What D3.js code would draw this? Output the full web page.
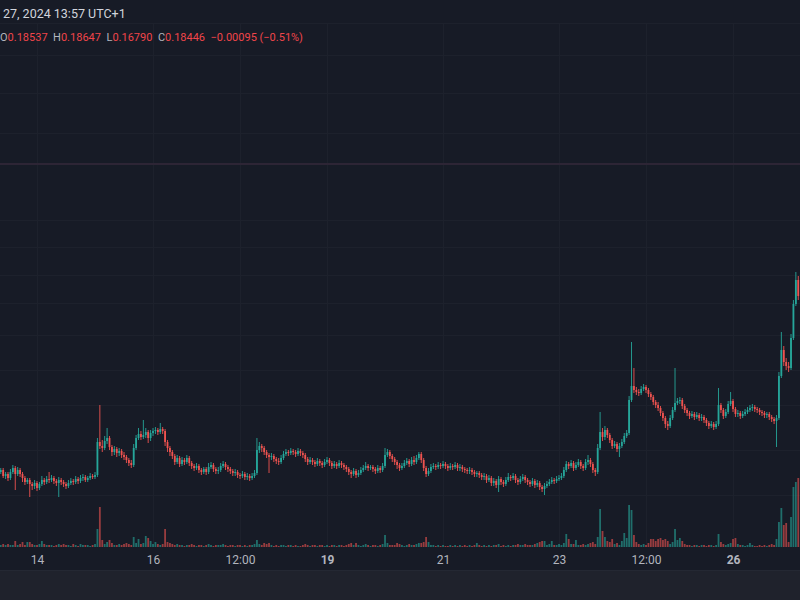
<!DOCTYPE html>
<html><head><meta charset="utf-8">
<script src="https://cdn.jsdelivr.net/npm/d3@7"></script>
<style>html,body{margin:0;padding:0;background:#171b26;}svg{display:block;}</style>
</head><body><svg id="c" width="800" height="600"></svg>
<script>
// hourly candles, first one opens Jan 13 09:00; each hourly candle opens at the previous close
const startTime = Date.UTC(2024, 0, 13, 9);
const firstOpen = 0.1112;
const closes = [
0.1120,0.1096,0.1104,0.1088,0.1112,0.1128,0.1104,0.1120,0.1104,0.1088,
0.1072,0.1080,0.1064,0.1056,0.1068,0.1048,0.1064,0.1080,0.1072,0.1084,
0.1080,0.1088,0.1076,0.1068,0.1080,0.1072,0.1064,0.1056,0.1068,0.1076,
0.1072,0.1084,0.1076,0.1088,0.1092,0.1080,0.1088,0.1096,0.1092,0.1100,
0.1232,0.1216,0.1208,0.1236,0.1248,0.1212,0.1192,0.1204,0.1188,0.1196,
0.1180,0.1172,0.1160,0.1148,0.1140,0.1208,0.1248,0.1264,0.1252,0.1260,
0.1272,0.1248,0.1268,0.1276,0.1280,0.1272,0.1284,0.1276,0.1232,0.1208,
0.1192,0.1176,0.1152,0.1168,0.1144,0.1160,0.1152,0.1168,0.1148,0.1136,
0.1128,0.1136,0.1120,0.1112,0.1124,0.1112,0.1132,0.1140,0.1124,0.1116,
0.1120,0.1136,0.1144,0.1132,0.1124,0.1116,0.1108,0.1112,0.1100,0.1096,
0.1104,0.1092,0.1096,0.1088,0.1096,0.1108,0.1200,0.1216,0.1208,0.1192,
0.1180,0.1172,0.1176,0.1164,0.1156,0.1152,0.1168,0.1184,0.1192,0.1188,
0.1196,0.1192,0.1184,0.1196,0.1188,0.1180,0.1164,0.1152,0.1160,0.1152,
0.1144,0.1156,0.1148,0.1140,0.1152,0.1160,0.1148,0.1136,0.1144,0.1136,
0.1148,0.1140,0.1132,0.1124,0.1112,0.1104,0.1116,0.1100,0.1108,0.1120,
0.1128,0.1136,0.1128,0.1132,0.1124,0.1116,0.1128,0.1120,0.1136,0.1180,
0.1192,0.1176,0.1164,0.1152,0.1140,0.1128,0.1136,0.1148,0.1156,0.1144,
0.1160,0.1152,0.1168,0.1184,0.1160,0.1128,0.1104,0.1116,0.1132,0.1136,
0.1132,0.1140,0.1136,0.1144,0.1136,0.1128,0.1136,0.1132,0.1140,0.1128,
0.1132,0.1124,0.1120,0.1116,0.1120,0.1112,0.1104,0.1108,0.1100,0.1092,
0.1096,0.1080,0.1088,0.1068,0.1076,0.1060,0.1084,0.1072,0.1064,0.1080,
0.1092,0.1088,0.1096,0.1080,0.1072,0.1084,0.1092,0.1080,0.1072,0.1064,
0.1076,0.1060,0.1068,0.1052,0.1044,0.1056,0.1064,0.1072,0.1080,0.1076,
0.1084,0.1088,0.1096,0.1120,0.1144,0.1136,0.1148,0.1128,0.1140,0.1152,
0.1136,0.1128,0.1152,0.1160,0.1144,0.1120,0.1112,0.1208,0.1272,0.1252,
0.1280,0.1260,0.1240,0.1216,0.1224,0.1204,0.1216,0.1232,0.1256,0.1268,
0.1400,0.1456,0.1440,0.1432,0.1428,0.1444,0.1452,0.1440,0.1424,0.1412,
0.1392,0.1380,0.1368,0.1348,0.1328,0.1304,0.1296,0.1328,0.1360,0.1388,
0.1396,0.1400,0.1376,0.1360,0.1348,0.1336,0.1344,0.1332,0.1340,0.1328,
0.1332,0.1320,0.1308,0.1296,0.1304,0.1292,0.1304,0.1380,0.1360,0.1336,
0.1352,0.1384,0.1396,0.1364,0.1344,0.1348,0.1336,0.1344,0.1352,0.1360,
0.1368,0.1372,0.1364,0.1360,0.1352,0.1348,0.1340,0.1344,0.1332,0.1324,
0.1316,0.1328,0.1496,0.1600,0.1552,0.1536,0.1528,0.1648,0.1784,0.1880,0.1816];
const highs = [
0.1128,0.1128,0.1112,0.1112,0.1124,0.1140,0.1136,0.1132,0.1128,0.1112,
0.1096,0.1088,0.1088,0.1072,0.1080,0.1076,0.1072,0.1096,0.1088,0.1096,
0.1112,0.1100,0.1096,0.1084,0.1092,0.1088,0.1080,0.1072,0.1080,0.1088,
0.1084,0.1096,0.1092,0.1100,0.1104,0.1100,0.1096,0.1108,0.1104,0.1112,
0.1248,0.1380,0.1240,0.1256,0.1288,0.1256,0.1220,0.1216,0.1212,0.1208,
0.1204,0.1192,0.1180,0.1168,0.1160,0.1224,0.1260,0.1288,0.1276,0.1320,
0.1288,0.1280,0.1280,0.1288,0.1292,0.1288,0.1308,0.1292,0.1284,0.1240,
0.1216,0.1200,0.1184,0.1180,0.1176,0.1172,0.1168,0.1180,0.1176,0.1156,
0.1144,0.1148,0.1144,0.1128,0.1132,0.1132,0.1148,0.1152,0.1148,0.1132,
0.1132,0.1148,0.1156,0.1152,0.1140,0.1132,0.1124,0.1124,0.1120,0.1108,
0.1116,0.1112,0.1108,0.1104,0.1108,0.1120,0.1248,0.1232,0.1224,0.1216,
0.1200,0.1188,0.1188,0.1184,0.1172,0.1168,0.1180,0.1196,0.1204,0.1200,
0.1208,0.1204,0.1200,0.1208,0.1204,0.1196,0.1188,0.1172,0.1172,0.1168,
0.1160,0.1168,0.1164,0.1156,0.1164,0.1172,0.1168,0.1156,0.1156,0.1152,
0.1160,0.1156,0.1148,0.1140,0.1132,0.1120,0.1128,0.1124,0.1120,0.1132,
0.1140,0.1152,0.1144,0.1140,0.1140,0.1132,0.1140,0.1136,0.1148,0.1208,
0.1204,0.1200,0.1184,0.1172,0.1160,0.1148,0.1148,0.1160,0.1168,0.1164,
0.1172,0.1176,0.1180,0.1192,0.1192,0.1168,0.1136,0.1128,0.1144,0.1148,
0.1144,0.1152,0.1148,0.1156,0.1152,0.1144,0.1148,0.1144,0.1152,0.1148,
0.1144,0.1140,0.1132,0.1128,0.1132,0.1128,0.1120,0.1116,0.1116,0.1108,
0.1108,0.1104,0.1100,0.1096,0.1088,0.1084,0.1096,0.1092,0.1080,0.1092,
0.1108,0.1100,0.1108,0.1104,0.1088,0.1096,0.1104,0.1100,0.1088,0.1080,
0.1088,0.1084,0.1080,0.1076,0.1060,0.1068,0.1076,0.1084,0.1092,0.1088,
0.1096,0.1100,0.1108,0.1132,0.1156,0.1152,0.1160,0.1156,0.1152,0.1164,
0.1160,0.1144,0.1164,0.1180,0.1168,0.1152,0.1128,0.1224,0.1352,0.1288,
0.1296,0.1288,0.1268,0.1248,0.1236,0.1232,0.1228,0.1244,0.1268,0.1280,
0.1416,0.1632,0.1528,0.1452,0.1444,0.1456,0.1464,0.1460,0.1448,0.1432,
0.1420,0.1400,0.1392,0.1376,0.1356,0.1336,0.1316,0.1340,0.1372,0.1528,
0.1408,0.1412,0.1408,0.1384,0.1368,0.1356,0.1356,0.1352,0.1352,0.1348,
0.1344,0.1340,0.1328,0.1316,0.1316,0.1312,0.1316,0.1448,0.1388,0.1368,
0.1364,0.1396,0.1432,0.1404,0.1372,0.1360,0.1356,0.1356,0.1364,0.1372,
0.1380,0.1384,0.1380,0.1372,0.1368,0.1360,0.1356,0.1352,0.1352,0.1340,
0.1332,0.1340,0.1512,0.1672,0.1616,0.1568,0.1552,0.1664,0.1800,0.1912,0.1896];
const lows = [
0.1104,0.1088,0.1084,0.1076,0.1080,0.1104,0.1040,0.1096,0.1092,0.1072,
0.1060,0.1064,0.1012,0.1040,0.1044,0.1036,0.1040,0.1056,0.1060,0.1064,
0.1068,0.1072,0.1064,0.1056,0.1012,0.1060,0.1052,0.1044,0.1048,0.1060,
0.1060,0.1064,0.1064,0.1068,0.1076,0.1072,0.1072,0.1080,0.1084,0.1084,
0.1092,0.1204,0.1192,0.1200,0.1224,0.1200,0.1176,0.1180,0.1172,0.1176,
0.1168,0.1160,0.1148,0.1136,0.1128,0.1132,0.1200,0.1240,0.1240,0.1244,
0.1248,0.1228,0.1236,0.1256,0.1264,0.1260,0.1264,0.1264,0.1216,0.1192,
0.1176,0.1164,0.1140,0.1144,0.1132,0.1136,0.1140,0.1144,0.1136,0.1124,
0.1116,0.1120,0.1108,0.1100,0.1104,0.1100,0.1104,0.1124,0.1112,0.1104,
0.1104,0.1112,0.1128,0.1120,0.1112,0.1104,0.1096,0.1096,0.1088,0.1084,
0.1088,0.1080,0.1080,0.1076,0.1080,0.1088,0.1100,0.1188,0.1192,0.1180,
0.1168,0.1108,0.1160,0.1152,0.1144,0.1140,0.1144,0.1160,0.1176,0.1176,
0.1180,0.1180,0.1172,0.1176,0.1176,0.1168,0.1152,0.1140,0.1144,0.1140,
0.1132,0.1136,0.1136,0.1128,0.1132,0.1144,0.1136,0.1124,0.1128,0.1124,
0.1128,0.1128,0.1120,0.1112,0.1100,0.1088,0.1096,0.1088,0.1092,0.1100,
0.1112,0.1120,0.1116,0.1120,0.1112,0.1104,0.1108,0.1108,0.1112,0.1128,
0.1172,0.1164,0.1152,0.1140,0.1124,0.1116,0.1120,0.1128,0.1140,0.1132,
0.1136,0.1140,0.1144,0.1160,0.1148,0.1116,0.1092,0.1096,0.1108,0.1124,
0.1120,0.1124,0.1124,0.1128,0.1124,0.1116,0.1120,0.1120,0.1124,0.1116,
0.1116,0.1112,0.1108,0.1104,0.1104,0.1100,0.1092,0.1092,0.1088,0.1080,
0.1080,0.1068,0.1072,0.1056,0.1056,0.1048,0.1032,0.1060,0.1052,0.1056,
0.1072,0.1076,0.1080,0.1068,0.1060,0.1064,0.1076,0.1068,0.1060,0.1052,
0.1056,0.1048,0.1052,0.1040,0.1032,0.1020,0.1048,0.1056,0.1064,0.1064,
0.1068,0.1076,0.1080,0.1088,0.1112,0.1124,0.1128,0.1116,0.1120,0.1132,
0.1124,0.1116,0.1120,0.1140,0.1132,0.1108,0.1096,0.1104,0.1200,0.1236,
0.1240,0.1248,0.1228,0.1204,0.1208,0.1192,0.1172,0.1208,0.1224,0.1248,
0.1260,0.1392,0.1428,0.1420,0.1416,0.1420,0.1436,0.1428,0.1412,0.1400,
0.1380,0.1368,0.1356,0.1336,0.1316,0.1288,0.1280,0.1288,0.1320,0.1352,
0.1380,0.1384,0.1364,0.1348,0.1336,0.1324,0.1328,0.1320,0.1324,0.1316,
0.1316,0.1308,0.1296,0.1284,0.1288,0.1280,0.1284,0.1296,0.1348,0.1324,
0.1328,0.1344,0.1376,0.1352,0.1332,0.1332,0.1324,0.1328,0.1336,0.1344,
0.1352,0.1356,0.1352,0.1348,0.1340,0.1336,0.1328,0.1328,0.1320,0.1312,
0.1304,0.1212,0.1320,0.1488,0.1536,0.1520,0.1512,0.1520,0.1640,0.1776,0.1800];
const volumes = [
2,3,2,3,2,2,6,2,3,5, 2,5,5,3,2,2,3,6,3,2, 2,2,1,2,3,2,3,2,2,1, 3,2,1,3,2,2,2,1,2,3,
18,40,7,3,5,7,4,2,2,3, 2,3,4,3,2,10,4,8,3,4, 11,9,6,3,5,3,2,3,18,5, 4,3,2,3,2,2,1,2,2,3,
2,1,2,2,1,2,3,2,1,2, 2,2,3,2,1,2,2,1,2,2, 1,2,1,2,2,3,7,3,2,4, 3,4,2,1,2,1,2,2,1,2,
2,1,2,1,1,2,3,2,1,2, 2,1,2,2,1,2,1,2,2,1, 2,2,1,2,3,4,2,4,2,1, 2,3,2,1,2,2,1,2,3,12,
4,2,2,2,4,3,2,1,2,3, 2,2,3,4,4,5,10,5,2,2, 1,2,1,2,1,1,2,1,2,1, 2,1,2,1,2,1,2,4,2,1,
2,1,2,1,2,2,3,1,2,1, 2,1,2,2,3,2,2,3,2,2, 2,3,4,5,6,6,2,3,6,2, 2,3,2,4,13,8,3,3,7,2,
2,3,2,3,4,5,3,10,38,16, 10,6,5,8,3,4,2,6,14,9, 42,37,12,5,3,2,3,2,4,8, 8,6,8,9,7,8,6,3,5,18,
7,9,6,3,2,2,1,2,2,1, 2,2,1,2,2,1,2,13,5,3, 2,3,4,8,9,3,2,2,1,2, 4,2,1,1,2,1,2,1,2,3,
2,8,25,39,22,24,5,30,60,65,69];
const tickDates = [Date.UTC(2024,0,14), Date.UTC(2024,0,16), Date.UTC(2024,0,17,12), Date.UTC(2024,0,19),
                   Date.UTC(2024,0,21), Date.UTC(2024,0,23), Date.UTC(2024,0,24,12), Date.UTC(2024,0,26)];
const tickLabels = ["14","16","12:00","19","21","23","12:00","26"];
const boldTicks = ["19","26"];
const gridPrices = [0.278, 0.2628, 0.2468, 0.2120, 0.2012, 0.1900, 0.1788, 0.1660, 0.1520, 0.1380, 0.1200, 0.1020];
const markerPrice = 0.2344;
const headerDate = "27, 2024 13:57 UTC+1";
const ohlcLabels = ["O","H","L","C"];
const ohlcValues = ["0.18537","0.18647","0.16790","0.18446"];
const changeText = "\u22120.00095 (\u22120.51%)";

const W = 800, H = 600;
const UP = "#26a69a", DOWN = "#ef5350";
const svg = d3.select("#c");
const font = "Roboto, 'Open Sans', sans-serif";

svg.append("rect").attr("width", W).attr("height", H).attr("fill", "#171b26");
// bottom panel
svg.append("rect").attr("x", 0).attr("y", 571).attr("width", W).attr("height", 29).attr("fill", "#1f222c");
svg.append("line").attr("x1", 0).attr("x2", W).attr("y1", 570.5).attr("y2", 570.5).attr("stroke", "#242833");

const x = d3.scaleUtc()
  .domain([new Date(Date.UTC(2024,0,13,8,41)), new Date(Date.UTC(2024,0,27,3,43))])
  .range([0, W]);
const y = d3.scaleLinear().domain([0.3, 0.1]).range([0, 500]);
const yv = d3.scaleLinear().domain([0, 69]).range([547, 478]);

// grid
const grid = svg.append("g");
grid.selectAll("line.h").data(gridPrices).join("line")
  .attr("x1", 0).attr("x2", W)
  .attr("y1", d => Math.round(y(d)) + 0.5).attr("y2", d => Math.round(y(d)) + 0.5)
  .attr("stroke", "#1d212c").attr("stroke-width", 1);
grid.selectAll("line.v").data(tickDates).join("line")
  .attr("x1", d => Math.round(x(new Date(d))) + 0.5).attr("x2", d => Math.round(x(new Date(d))) + 0.5)
  .attr("y1", 24).attr("y2", 547)
  .attr("stroke", "#1d212c").attr("stroke-width", 1);
// horizontal marker line
svg.append("line").attr("x1", 0).attr("x2", W)
  .attr("y1", y(markerPrice)).attr("y2", y(markerPrice))
  .attr("stroke", "#2d2535").attr("stroke-width", 2);
// header separator
svg.append("line").attr("x1", 0).attr("x2", W).attr("y1", 23.5).attr("y2", 23.5).attr("stroke", "#1d212c");

const candles = closes.map((c, i) => ({
  t: new Date(startTime + i * 3600000),
  o: i === 0 ? firstOpen : closes[i - 1],
  h: highs[i], l: lows[i], c: c, v: volumes[i]
}));
const bw = 1.8;

// volume
svg.append("g").selectAll("rect").data(candles).join("rect")
  .attr("x", d => x(d.t) - bw / 2).attr("width", bw)
  .attr("y", d => yv(d.v)).attr("height", d => yv(0) - yv(d.v))
  .attr("fill", d => d.c >= d.o ? UP : DOWN).attr("opacity", 0.6);

// candles
const cg = svg.append("g");
cg.selectAll("line").data(candles).join("line")
  .attr("x1", d => x(d.t)).attr("x2", d => x(d.t))
  .attr("y1", d => y(d.h)).attr("y2", d => y(d.l))
  .attr("stroke", d => d.c >= d.o ? UP : DOWN).attr("stroke-width", 0.9);
cg.selectAll("rect").data(candles).join("rect")
  .attr("x", d => x(d.t) - bw / 2).attr("width", bw)
  .attr("y", d => y(Math.max(d.o, d.c)))
  .attr("height", d => Math.max(1, Math.abs(y(d.o) - y(d.c))))
  .attr("fill", d => d.c >= d.o ? UP : DOWN);

// time axis
const ax = svg.append("g").attr("transform", "translate(0,547)")
  .call(d3.axisBottom(x).tickValues(tickDates.map(d => new Date(d)))
    .tickFormat((d, i) => tickLabels[i]).tickSize(0).tickPadding(8));
ax.select(".domain").remove();
ax.selectAll("text").attr("fill", "#b2b5be").attr("font-family", font).attr("font-size", 12)
  .attr("font-weight", (d, i) => boldTicks.includes(tickLabels[i]) ? "bold" : "normal");

// header
svg.append("text").attr("x", 3).attr("y", 17.5).attr("fill", "#d1d4dc")
  .attr("font-family", font).attr("font-size", 12.5).text(headerDate);
const t = svg.append("text").attr("x", 0).attr("y", 40.5)
  .attr("font-family", font).attr("font-size", 11);
ohlcLabels.forEach((lab, i) => {
  t.append("tspan").attr("dx", i === 0 ? 0 : 5.5).attr("fill", "#b2b5be").text(lab);
  t.append("tspan").attr("fill", "#f0454a").text(ohlcValues[i]);
});
t.append("tspan").attr("dx", 5.5).attr("fill", "#f0454a").text(changeText);
</script></body></html>
